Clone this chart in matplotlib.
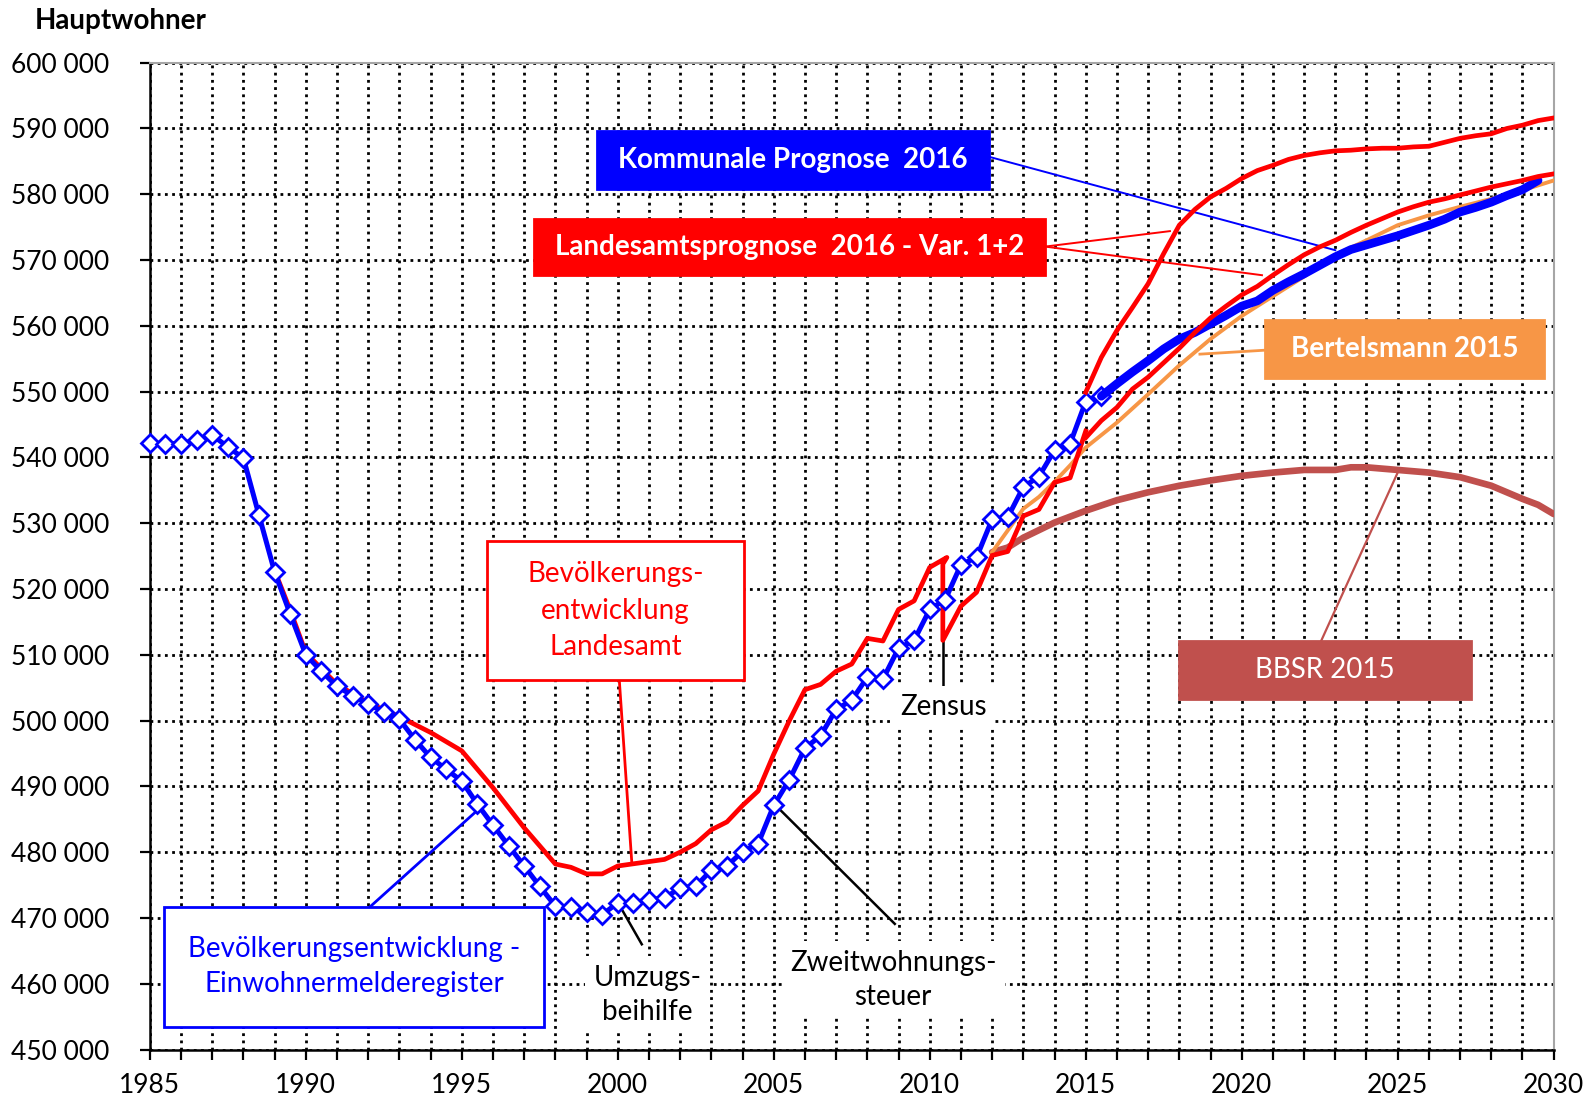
import matplotlib.pyplot as plt
import numpy as np
from matplotlib.patches import Rectangle
from matplotlib.ticker import MultipleLocator, FuncFormatter

plt.rcParams['font.family'] = ['Lato', 'DejaVu Sans']

# Einwohnermelderegister, half-yearly values 1985.0 .. 2015.5
reg_years = np.arange(1985.0, 2015.51, 0.5)
reg_values = [542200, 542100, 542100, 542600, 543400, 541600, 539900, 531200, 522600, 516200,
              510000, 507500, 505200, 503800, 502500, 501300, 500200, 497100, 494400, 492600,
              490800, 487300, 484100, 481000, 477900, 474800, 471800, 471700, 470900, 470500,
              472300, 472300, 472800, 473000, 474600, 474800, 477300, 477900, 480100, 481300,
              487100, 491000, 495800, 497700, 501700, 503100, 506600, 506300, 511000, 512200,
              516900, 518400, 523700, 524800, 530600, 530900, 535500, 537100, 541100, 542100,
              548500, 549300]

# Kommunale Prognose 2016
komm_years = np.arange(2015.5, 2029.51, 0.5)
komm_values = [549300, 551200, 553000, 554700, 556500, 558000, 559000, 560300, 561600, 563000,
               563800, 565400, 566700, 567900, 569200, 570500, 571600, 572300, 573000, 573700,
               574500, 575300, 576200, 577300, 578000, 578800, 579800, 580700, 582100]

# Bevoelkerungsentwicklung Landesamt (with Zensus break)
lds_years = [1989.0, 1989.5, 1990, 1991, 1992, 1993, 1994, 1995, 1996, 1997, 1998, 1998.5,
             1999, 1999.5, 2000, 2001.5, 2002, 2002.5, 2003, 2003.5, 2004, 2004.5, 2005,
             2005.5, 2006, 2006.5, 2007, 2007.5, 2008, 2008.5, 2009, 2009.5, 2010, 2010.55,
             2010.42, 2010.42, 2011, 2011.5, 2012, 2012.5, 2013, 2013.5, 2014, 2014.5, 2015]
lds_values = [522800, 516800, 510300, 505500, 502700, 500600, 498200, 495400, 489800, 483700,
              478200, 477700, 476700, 476700, 477900, 478900, 480000, 481300, 483400, 484600,
              487100, 489300, 494900, 500000, 504700, 505500, 507500, 508600, 512500, 512100,
              516900, 518200, 523300, 524800, 523800, 512200, 517400, 519500, 525100, 525700,
              531100, 532100, 536200, 536900, 544000]

# Landesamtsprognose 2016, Var. 1 and Var. 2
var_years = np.arange(2015.0, 2030.01, 0.5)
var2_values = [549900, 555200, 559300, 562800, 566400, 571000, 575300, 577700, 579600, 580900,
               582400, 583600, 584400, 585300, 585900, 586300, 586600, 586700, 586900, 587000,
               587000, 587200, 587300, 587900, 588500, 588900, 589200, 590000, 590500, 591200,
               591600]
var1_values = [543000, 545600, 547600, 550400, 552200, 554400, 556600, 559000, 561200, 563000,
               564700, 566000, 567700, 569300, 570800, 572000, 573000, 574200, 575300, 576300,
               577300, 578100, 578800, 579300, 579900, 580500, 581100, 581600, 582100, 582700,
               583100]

# Bertelsmann 2015
bert_years = [2012, 2012.5, 2013, 2013.5, 2014, 2014.5, 2015, 2016, 2017, 2018, 2019, 2020,
              2021, 2022, 2023, 2024, 2025, 2026, 2027, 2028, 2029, 2030]
bert_values = [525600, 528900, 532200, 534000, 536300, 538800, 541500, 545300, 549600, 554000,
               558000, 561500, 564500, 567500, 570800, 573000, 575300, 576800, 578100, 579300,
               580600, 582100]

# BBSR 2015
bbsr_years = [2012, 2012.5, 2013, 2014, 2015, 2016, 2017, 2018, 2019, 2020, 2021, 2022, 2023,
              2023.5, 2024, 2025, 2026, 2027, 2028, 2028.5, 2029, 2029.5, 2030]
bbsr_values = [525600, 526300, 527800, 530100, 531900, 533500, 534700, 535700, 536500, 537200,
               537700, 538100, 538100, 538500, 538500, 538100, 537700, 537000, 535700, 534700,
               533700, 532800, 531400]

BLUE = '#0000FF'
RED = '#FF0000'
ORANGE = '#F79646'
BROWN = '#C0504D'
FS = 20

fig = plt.figure(figsize=(15.87, 11.02), dpi=100)
ax = fig.add_axes([0.0944, 0.0476, 0.8846, 0.8955])

# data lines
ax.plot(bbsr_years, bbsr_values, color=BROWN, lw=4.8, zorder=3, solid_capstyle='round')
ax.plot(bert_years, bert_values, color=ORANGE, lw=2.8, zorder=3.1)
ax.plot(lds_years, lds_values, color=RED, lw=3.4, zorder=3.2)
ax.plot(reg_years, reg_values, color=BLUE, lw=3.6, marker='D', ms=8.8, mfc='white',
        mec=BLUE, mew=2.0, zorder=3.5, clip_on=False)
ax.plot(komm_years, komm_values, color=BLUE, lw=6.2, zorder=3.6, solid_capstyle='round')
ax.plot(var_years, var1_values, color=RED, lw=3.4, zorder=3.7)
ax.plot(var_years, var2_values, color=RED, lw=3.4, zorder=3.7)


def box(x0, x1, y0, y1, text, fc, ec, tc, bold=False, ls=1.2):
    ax.add_patch(Rectangle((x0, y0), x1 - x0, y1 - y0, fc=fc, ec=ec, lw=2, zorder=6))
    ax.text((x0 + x1) / 2, (y0 + y1) / 2, text, color=tc, ha='center', va='center',
            fontsize=FS, fontweight='bold' if bold else 'normal', linespacing=ls, zorder=7)


def pointer(xs, ys, color, lw=1.4):
    ax.plot(xs, ys, color=color, lw=lw, zorder=2.5)


# labels with pointer lines
pointer([2011.9, 2023.0], [585700, 571500], BLUE)
box(1999.35, 2011.9, 580800, 589600, 'Kommunale Prognose  2016', BLUE, BLUE, 'white', bold=True)

pointer([2013.7, 2017.7], [572050, 574400], RED)
pointer([2013.7, 2020.65], [572050, 567700], RED)
box(1997.3, 2013.7, 567800, 576300, 'Landesamtsprognose  2016 - Var. 1+2', RED, RED, 'white', bold=True)

pointer([2018.66, 2020.74], [555700, 556300], ORANGE, lw=2)
box(2020.74, 2029.7, 552050, 560900, 'Bertelsmann 2015', ORANGE, ORANGE, 'white', bold=True)

pointer([2022.55, 2025.0], [512150, 537700], BROWN, lw=1.6)
box(2018.0, 2027.35, 503250, 512150, 'BBSR 2015', BROWN, BROWN, 'white')

pointer([2000.05, 2000.45], [506100, 478400], RED, lw=2)
box(1995.8, 2004.05, 506100, 527300, 'Bevölkerungs-\nentwicklung\nLandesamt', 'white', RED, RED, ls=1.5)

pointer([1992.06, 1995.58], [471700, 486700], BLUE, lw=2)
box(1985.46, 1997.64, 453500, 471700, 'Bevölkerungsentwicklung -\nEinwohnermelderegister',
    'white', BLUE, BLUE, ls=1.45)

# black notes
pointer([2000.07, 2000.77], [471800, 466000], 'black', lw=1.8)
ax.text(2000.95, 458300, 'Umzugs-\nbeihilfe', ha='center', va='center', fontsize=FS,
        linespacing=1.4, zorder=6, bbox=dict(fc='white', ec='none', pad=6))
pointer([2004.98, 2008.88], [487500, 469100], 'black', lw=1.8)
ax.text(2008.83, 460600, 'Zweitwohnungs-\nsteuer', ha='center', va='center', fontsize=FS,
        linespacing=1.4, zorder=6, bbox=dict(fc='white', ec='none', pad=6))
pointer([2010.43, 2010.43], [512100, 504500], 'black', lw=1.8)
ax.text(2010.43, 502000, 'Zensus', ha='center', va='center', fontsize=FS, zorder=6,
        bbox=dict(fc='white', ec='none', pad=6))

# axes
ax.set_xlim(1985, 2030)
ax.set_ylim(450000, 600000)
ax.xaxis.set_major_locator(MultipleLocator(5))
ax.xaxis.set_minor_locator(MultipleLocator(1))
ax.yaxis.set_major_locator(MultipleLocator(10000))
ax.yaxis.set_major_formatter(FuncFormatter(lambda v, p: f'{int(v):,}'.replace(',', ' ')))
ax.set_axisbelow(True)
ax.grid(True, which='both', axis='x', color='black', lw=2.0, ls=(0, (1, 1.6)))
ax.grid(True, which='major', axis='y', color='black', lw=2.0, ls=(0, (1, 1.6)))
ax.tick_params(axis='both', which='both', direction='out', length=7, width=1.6, labelsize=19)
ax.tick_params(axis='y', pad=22)
ax.tick_params(axis='x', pad=10)
for s in ['left', 'bottom']:
    ax.spines[s].set_color('black')
    ax.spines[s].set_linewidth(1.8)
for s in ['top', 'right']:
    ax.spines[s].set_color('#A6A6A6')
    ax.spines[s].set_linewidth(1.5)

fig.text(35 / 1587, 1 - 29 / 1102, 'Hauptwohner', ha='left', va='baseline',
         fontsize=20, fontweight='bold')

fig.savefig('out.png', dpi=100)
